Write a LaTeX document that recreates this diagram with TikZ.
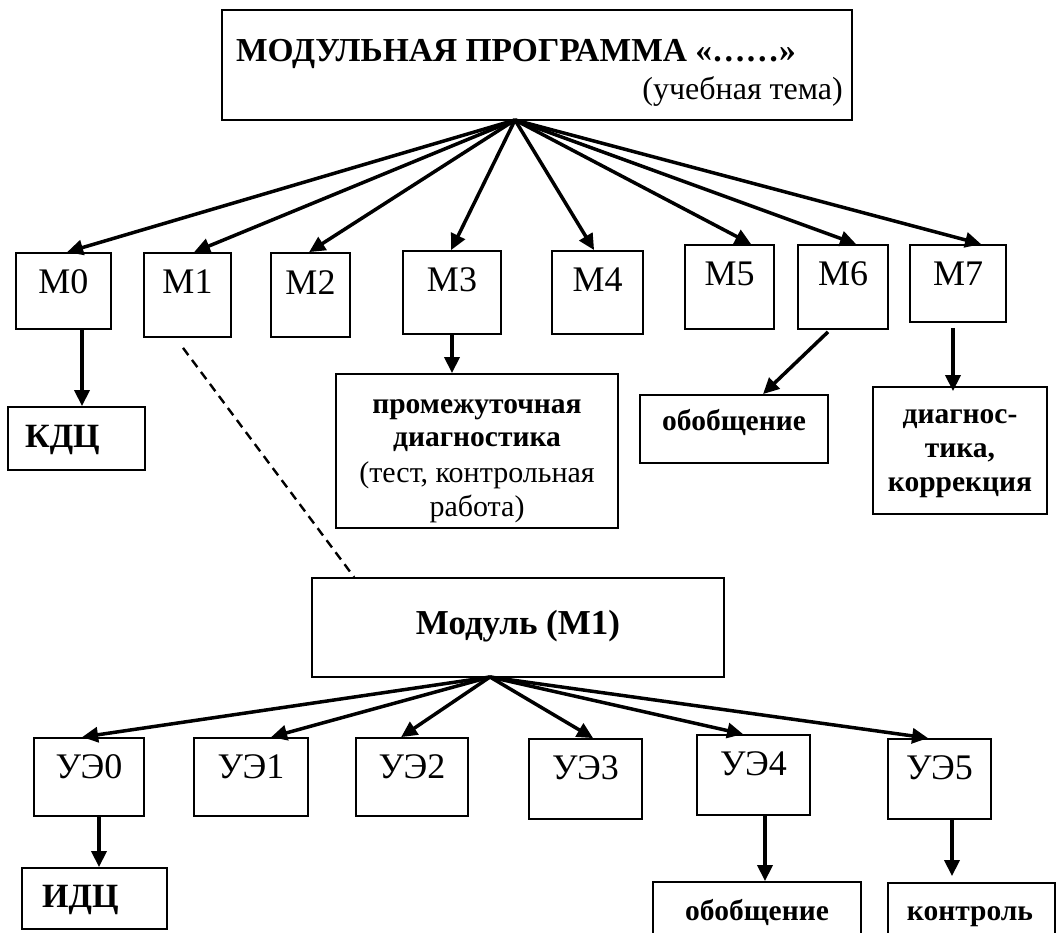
\documentclass[tikz,border=0pt]{standalone}
\usepackage{fontspec}
\setmainfont{Liberation Serif}
\usetikzlibrary{arrows.meta,calc,fit}
\begin{document}
\begin{tikzpicture}[x=1pt,y=-1pt,
  box/.style={draw,line width=1.8pt,inner sep=0pt},
  lbl/.style={font=\fontsize{36}{42}\selectfont,inner sep=0pt},
  sublbl/.style={font=\fontsize{32}{38}\selectfont,inner sep=0pt},
  hdr/.style={font=\fontsize{33.5}{40}\selectfont\bfseries,inner sep=0pt},
  modl/.style={font=\fontsize{35}{40}\selectfont\bfseries,inner sep=0pt},
  bigb/.style={font=\fontsize{34}{40}\selectfont\bfseries,inner sep=0pt},
  bt/.style={font=\fontsize{29.5}{33}\selectfont\bfseries,align=center,inner sep=0pt},
  bt3/.style={font=\fontsize{29.5}{34}\selectfont\bfseries,align=center,inner sep=0pt},
  rt/.style={font=\fontsize{30}{34}\selectfont,align=center,inner sep=0pt},
  arr/.style={line width=3.5pt,-{Triangle[length=16pt,width=15pt]}},
  dsh/.style={line width=2.4pt,dash pattern=on 9pt off 6pt},
]
\useasboundingbox (0,0) rectangle (1061,933);
\clip (0,0) rectangle (1061,933);

% top box
\node[box,fit={(222,10)(852,120)}] (top) {};
\node[hdr,anchor=base] (title) at (516,62) {МОДУЛЬНАЯ ПРОГРАММА «……»};
\node[sublbl,anchor=base east] (sub) at (843,100) {(учебная тема)};
\coordinate (h1) at (515,120);

% modules
\node[box,fit={(16,253)(111,329)}] (m0) {};
\node[box,fit={(144,253)(231,337)}] (m1) {};
\node[box,fit={(271,253)(350,337)}] (m2) {};
\node[box,fit={(403,251)(501,334)}] (m3) {};
\node[box,fit={(552,251)(643,334)}] (m4) {};
\node[box,fit={(685,245)(774,329)}] (m5) {};
\node[box,fit={(798,245)(888,329)}] (m6) {};
\node[box,fit={(910,245)(1006,322)}] (m7) {};
\foreach \n/\t in {m0/M0,m1/M1,m2/M2,m3/M3,m4/M4,m5/M5,m6/M6,m7/M7}
  \node[lbl] (\n t) at ($(\n.north)+(0,30)$) {\t};

\draw[arr] (h1) -- ([xshift=52pt]m0.north west);
\draw[arr] (h1) -- ([xshift=51pt]m1.north west);
\draw[arr] (h1) -- ([xshift=39pt]m2.north west);
\draw[arr] (h1) -- ([xshift=49pt]m3.north west);
\draw[arr] (h1) -- ([xshift=43pt]m4.north west);
\draw[arr] (h1) -- ([xshift=67pt]m5.north west);
\draw[arr] (h1) -- ([xshift=59pt]m6.north west);
\draw[arr] (h1) -- ([xshift=72pt]m7.north west);

% second-level boxes
\node[box,fit={(8,407)(145,470)}] (kdc) {};
\node[bigb,anchor=west] (kdct) at (25,440) {КДЦ};
\node[box,fit={(336,374)(618,528)}] (prom) {};
\node[bt] (promt1) at (477,426) {промежуточная\\диагностика};
\node[rt] (promt2) at (477,492) {(тест, контрольная\\работа)};
\node[box,fit={(640,395)(828,463)}] (ob1) {};
\node[bt,anchor=base] (ob1t) at (734,431) {обобщение};
\node[box,fit={(873,387)(1047,514)}] (diag) {};
\node[bt3] (diagt) at (960,454) {диагнос-\\тика,\\коррекция};

\draw[arr] ([xshift=18.5pt]m0.south) -- ([xshift=18.5pt]m0.south |- kdc.north);
\draw[arr] (m3.south) -- (m3.south |- prom.north);
\draw[arr] ([shift={(-15,2)}]m6.south) -- ([xshift=29pt]ob1.north);
\draw[arr] ([shift={(-5,5)}]m7.south) -- ([shift={(-5,5)}]m7.south |- diag.north);

% module M1
\node[box,fit={(312,578)(724,677)}] (mod) {};
\node[modl] (modt) at (518,626) {Модуль (М1)};
\coordinate (h2) at (490,677);
\draw[dsh] ([shift={(-4.5,10)}]m1.south) -- ([xshift=43pt]mod.north west);

% learning elements
\node[box,fit={(34,738)(144,816)}] (u0) {};
\node[box,fit={(194,738)(308,816)}] (u1) {};
\node[box,fit={(356,738)(468,816)}] (u2) {};
\node[box,fit={(529,739)(642,819)}] (u3) {};
\node[box,fit={(697,735)(810,815)}] (u4) {};
\node[box,fit={(888,739)(991,819)}] (u5) {};
\foreach \n/\t in {u0/УЭ0,u1/УЭ1,u2/УЭ2,u3/УЭ3,u4/УЭ4,u5/УЭ5}
  \node[lbl] (\n t) at ($(\n.north)+(0,30)$) {\t};

\draw[arr] (h2) -- ([xshift=49pt]u0.north west);
\draw[arr] (h2) -- ([xshift=78pt]u1.north west);
\draw[arr] (h2) -- ([xshift=46pt]u2.north west);
\draw[arr] (h2) -- ([xshift=65pt]u3.north west);
\draw[arr] (h2) -- ([xshift=47pt]u4.north west);
\draw[arr] (h2) -- ([xshift=41pt]u5.north west);

\node[box,fit={(22,868)(167,929)}] (idc) {};
\node[bigb,anchor=west] (idct) at (42,900) {ИДЦ};
\node[box,fit={(653,882)(861,945)}] (ob2) {};
\node[bt,anchor=base] (ob2t) at (757,920) {обобщение};
\node[box,fit={(888,883)(1055,945)}] (ctl) {};
\node[bt,anchor=base] (ctlt) at (970,920) {контроль};

\draw[arr] ([xshift=10pt]u0.south) -- ([xshift=10pt]u0.south |- idc.north);
\draw[arr] ([xshift=11.5pt]u4.south) -- ([xshift=11.5pt]u4.south |- ob2.north);
\draw[arr] ([xshift=12.5pt]u5.south) -- ([shift={(12.5,-6)}]u5.south |- ctl.north);
\end{tikzpicture}
\end{document}
